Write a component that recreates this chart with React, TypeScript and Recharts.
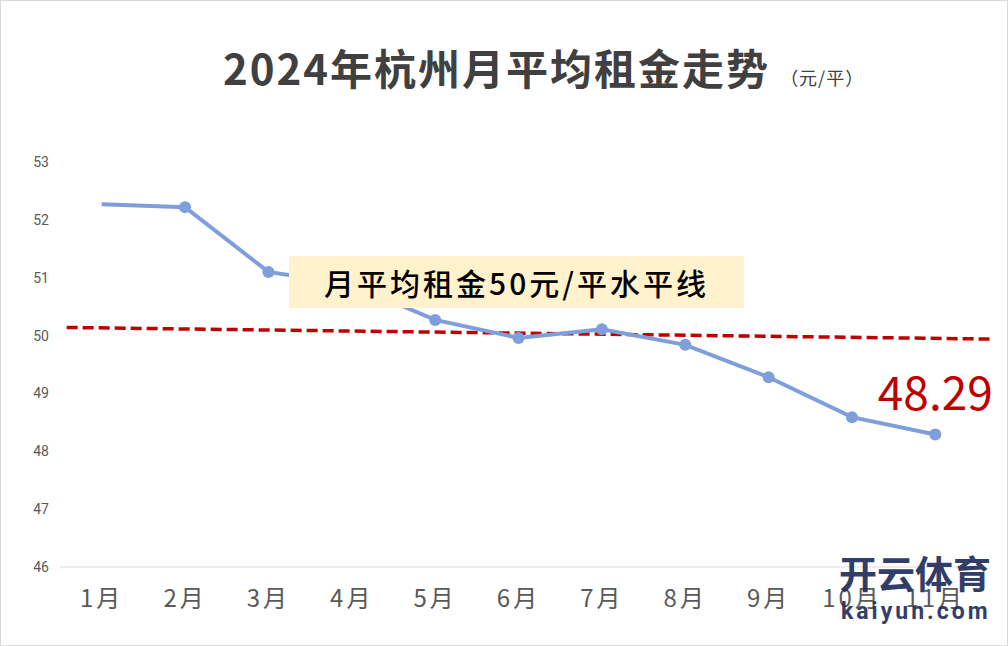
import { LineChart, Line, XAxis, YAxis, ReferenceLine } from "recharts";

// Datos
const months = ["1月", "2月", "3月", "4月", "5月", "6月", "7月", "8月", "9月", "10月", "11月"];
const rent = [52.27, 52.22, 51.1, 50.88, 50.27, 49.96, 50.11, 49.84, 49.28, 48.59, 48.29];
const yTicks = [46, 47, 48, 49, 50, 51, 52, 53];
const trendStart = 50.14;
const trendEnd = 49.94;

const monthIdx = months.map((_, i) => i);
const data = months.map((m, i) => ({ idx: i, month: m, rent: rent[i] }));

const LINE_COLOR = "#7f9edc";
const RED = "#c00000";
const CJK = '"Noto Sans CJK SC", "Noto Sans", sans-serif';

// Punto: el primero no lleva marcador
const Dot = (props: any) => {
  const { cx, cy, index } = props;
  if (index === 0) return <g key={`d${index}`} />;
  return <circle key={`d${index}`} cx={cx} cy={cy} r={6} fill={LINE_COLOR} stroke="none" />;
};

// Etiqueta sólo del último valor
const LastLabel = (props: any) => {
  const { x, y, index } = props;
  if (index !== rent.length - 1) return null;
  return (
    <text x={x} y={y - 25} textAnchor="middle" fill={RED} fontSize={46} fontFamily={CJK}>
      {rent[index].toFixed(2)}
    </text>
  );
};

export default function App() {
  return (
    <div
      style={{
        position: "absolute",
        left: 0,
        top: 0,
        width: 1008,
        height: 646,
        background: "#fff",
        boxSizing: "border-box",
        border: "1px solid #d9d9d9",
        fontFamily: CJK,
        overflow: "hidden",
      }}
    >
      <LineChart
        width={1006}
        height={644}
        data={data}
        margin={{ top: 161, right: 30, bottom: 28, left: -1 }}
      >
        <XAxis
          dataKey="idx"
          type="number"
          domain={[-0.5, 10.5]}
          allowDataOverflow
          ticks={monthIdx}
          tickFormatter={(v: number) => months[v]}
          axisLine={{ stroke: "#d9d9d9" }}
          tickLine={false}
          tickSize={0}
          tickMargin={23}
          height={50}
          interval={0}
          tick={{ fill: "#595959", fontSize: 24, letterSpacing: 3, fontFamily: CJK }}
        />
        <YAxis
          domain={[46, 53]}
          ticks={yTicks}
          axisLine={false}
          tickLine={false}
          tickSize={0}
          tickMargin={11}
          width={60}
          tick={{ fill: "#595959", fontSize: 14, fontFamily: "Roboto, sans-serif" }}
        />
        <ReferenceLine
          segment={[
            { x: -0.42, y: trendStart },
            { x: 10.65, y: trendEnd },
          ]}
          stroke={RED}
          strokeWidth={3.5}
          strokeDasharray="11 5"
          ifOverflow="visible"
        />
        <Line
          type="linear"
          dataKey="rent"
          stroke={LINE_COLOR}
          strokeWidth={4}
          dot={Dot}
          activeDot={false}
          label={LastLabel}
          isAnimationActive={false}
        />
      </LineChart>

      {/* Título */}
      <div
        style={{
          position: "absolute",
          left: 222,
          top: 38,
          fontSize: 42,
          fontWeight: 700,
          letterSpacing: 2,
          color: "#404040",
          whiteSpace: "nowrap",
          lineHeight: "56px",
        }}
      >
        2024年杭州月平均租金走势
        <span style={{ fontSize: 18, fontWeight: 400, letterSpacing: 1, marginLeft: 10 }}>（元/平）</span>
      </div>

      {/* Cuadro de texto */}
      <div
        style={{
          position: "absolute",
          left: 288,
          top: 255,
          width: 455,
          height: 52,
          background: "#fff2cc",
          color: "#000",
          fontSize: 30,
          fontWeight: 500,
          letterSpacing: 3,
          display: "flex",
          alignItems: "center",
          justifyContent: "center",
          whiteSpace: "nowrap",
        }}
      >
        月平均租金50元/平水平线
      </div>

      {/* Marca de agua */}
      <div
        style={{
          position: "absolute",
          left: 838,
          top: 546,
          fontSize: 38,
          fontWeight: 700,
          color: "#1b2a58",
          whiteSpace: "nowrap",
          lineHeight: "50px",
          opacity: 0.9,
        }}
      >
        开云体育
      </div>
      <div
        style={{
          position: "absolute",
          left: 840,
          top: 597,
          fontSize: 23,
          fontWeight: 700,
          color: "#1b2a58",
          letterSpacing: 3,
          whiteSpace: "nowrap",
          lineHeight: "28px",
          fontFamily: "Roboto, sans-serif",
          opacity: 0.9,
        }}
      >
        kaiyun.com
      </div>
    </div>
  );
}
